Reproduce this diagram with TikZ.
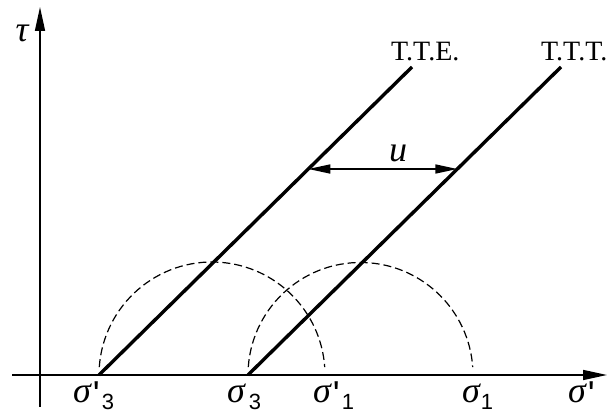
\documentclass[tikz,border=0pt]{standalone}
\usepackage{fontspec}
\setmainfont{Liberation Serif}
\newfontfamily\serifrm{Liberation Serif}
\newfontfamily\digitfont{Liberation Sans}
\usetikzlibrary{arrows.meta,calc}
\newcommand\sgm{{\serifrm\fontsize{36}{40}\selectfont\itshape σ}}
\newcommand\primemark{\raisebox{-4pt}{\digitfont\fontsize{36}{36}\selectfont\XeTeXglyph\XeTeXglyphindex "quotesingle"\relax}}
\newcommand\subd[1]{\raisebox{-7pt}{\digitfont\fontsize{22}{22}\selectfont #1}}
\begin{document}
\begin{tikzpicture}[x=1pt,y=1pt,
  axisline/.style={line width=1.6pt,-{Triangle[length=24pt,width=10pt]}},
  envelope/.style={line width=3.4pt},
  mohr/.style={line width=1.2pt,dash pattern=on 8pt off 4pt},
  dimline/.style={line width=1.6pt,{Triangle[length=22pt,width=9pt]}-{Triangle[length=22pt,width=9pt]}},
  mathlab/.style={inner sep=0pt,font=\serifrm\fontsize{36}{40}\selectfont\itshape},
  siglab/.style={inner sep=0pt,anchor=base west},
  txtlab/.style={inner sep=0pt,font=\serifrm\fontsize{28}{30}\selectfont}
]
\useasboundingbox (0,0) rectangle (614,414);
% axes
\coordinate (xs) at (12,39);
\coordinate (xe) at (607,39);
\coordinate (ys) at (40,7);
\coordinate (ye) at (40,407);
\draw[axisline] (xs) -- (xe);
\draw[axisline] (ys) -- (ye);
% envelope lines
\coordinate (s3p) at (99,39);
\coordinate (s3) at (248,39);
\coordinate (tteend) at (412,347);
\coordinate (tttend) at (561,347);
\draw[envelope] (s3p) -- (tteend);
\draw[envelope] (s3) -- (tttend);
% Mohr circles
\coordinate (c1) at (212,39);
\coordinate (c2) at (360.5,39);
\draw[mohr] ($(c1)+(176:113)$) arc[start angle=176,end angle=4,radius=113];
\draw[mohr] ($(c2)+(176:112.5)$) arc[start angle=176,end angle=4,radius=112.5];
% u dimension
\coordinate (ua) at ($(s3p)!0.6688!(tteend)$);
\coordinate (ub) at ($(s3)!0.6688!(tttend)$);
\draw[dimline] (ua) -- (ub);
\node[mathlab] (ulab) at (398,261) {u};
% labels
\node[mathlab] (tau) at (22,381) {τ};
\node[txtlab,anchor=base west] (tte) at (391,353) {T.T.E.};
\node[txtlab,anchor=base west] (ttt) at (541,353) {T.T.T.};
\node[siglab] (l1) at (73,11) {\sgm\kern2pt\primemark\kern2pt\subd{3}};
\node[siglab] (l2) at (227,11) {\sgm\kern4pt\subd{3}};
\node[siglab] (l3) at (313,11) {\sgm\kern2pt\primemark\kern2pt\subd{1}};
\node[siglab] (l4) at (462,11) {\sgm\kern1pt\subd{1}};
\node[siglab] (l5) at (568,11) {\sgm\kern2pt\primemark};
\end{tikzpicture}
\end{document}
